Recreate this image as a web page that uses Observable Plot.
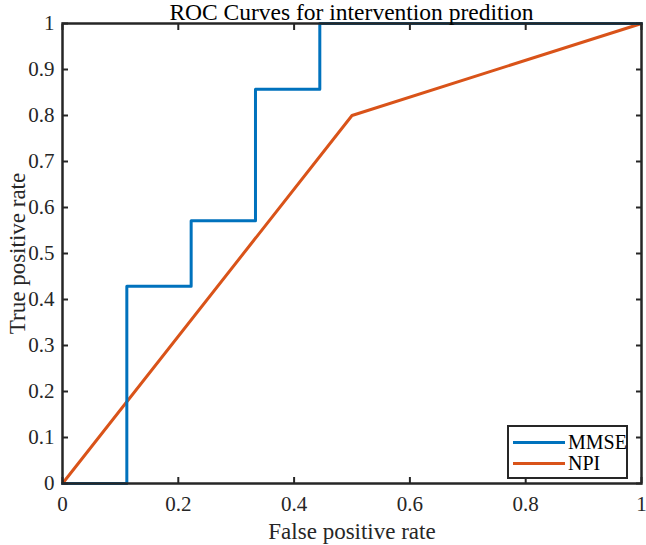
<!DOCTYPE html>
<html>
<head>
<meta charset="utf-8">
<script src="https://cdn.jsdelivr.net/npm/d3@7"></script>
<script src="https://cdn.jsdelivr.net/npm/@observablehq/plot@0.6"></script>
<style>
  body { margin: 0; background: white; font-family: "Liberation Serif", "Times New Roman", serif; }
  #wrap { position: relative; width: 646px; height: 545px; }
  #title { position: relative; z-index: 2; height: 20px; line-height: 25px; font-size: 23.5px;
           width: 646px; padding-left: 62px; padding-right: 5px; box-sizing: border-box;
           text-align: center; color: #000; white-space: nowrap; }
  #legend { position: absolute; z-index: 3; left: 507px; top: 425px; width: 121px; height: 54px;
            box-sizing: border-box; border: 2px solid #262626; background: white; font-size: 20px; color: #000; }
  .row { position: absolute; left: 4px; height: 20px; display: flex; align-items: center; }
  .sw { width: 52px; height: 3px; margin-right: 3px; }
  #chart svg, #chart svg text { font-family: "Liberation Serif", "Times New Roman", serif !important; }
</style>
</head>
<body>
<div id="wrap">
  <div id="title">ROC Curves for intervention predition</div>
  <div id="chart"></div>
  <div id="legend"></div>
</div>
<script>
// ROC curve vertices (false positive rate, true positive rate)
const mmseFpr = [0, 0.1111, 0.1111, 0.2222, 0.2222, 0.3333, 0.3333, 0.4444, 0.4444, 1];
const mmseTpr = [0, 0, 0.4286, 0.4286, 0.5714, 0.5714, 0.8571, 0.8571, 1, 1];
const npiFpr = [0, 0.5, 1];
const npiTpr = [0, 0.8, 1];

const seriesNames = ["MMSE", "NPI"];
const seriesColors = ["#0072BD", "#D95319"];

const xTicks = [0, 0.2, 0.4, 0.6, 0.8, 1];
const yTicks = [0, 0.1, 0.2, 0.3, 0.4, 0.5, 0.6, 0.7, 0.8, 0.9, 1];

const mmse = mmseFpr.map((x, i) => ({x, y: mmseTpr[i], s: "MMSE"}));
const npi = npiFpr.map((x, i) => ({x, y: npiTpr[i], s: "NPI"}));

const fmt = d => d === 0 || d === 1 ? String(d) : d3.format(".1f")(d);
const noLabel = () => "";
const axisColor = "#262626";
const tickLen = 6;

// inward-pointing tick marks on all four sides of the box
const inwardTicks = [
  Plot.axisX({ anchor: "bottom", ticks: xTicks, tickFormat: noLabel, tickSize: tickLen, dy: -tickLen, stroke: axisColor, strokeWidth: 2, label: null }),
  Plot.axisX({ anchor: "top", ticks: xTicks, tickFormat: noLabel, tickSize: tickLen, dy: tickLen, stroke: axisColor, strokeWidth: 2, label: null }),
  Plot.axisY({ anchor: "left", ticks: yTicks, tickFormat: noLabel, tickSize: tickLen, dx: tickLen, stroke: axisColor, strokeWidth: 2, label: null }),
  Plot.axisY({ anchor: "right", ticks: yTicks, tickFormat: noLabel, tickSize: tickLen, dx: -tickLen, stroke: axisColor, strokeWidth: 2, label: null })
];

const chart = Plot.plot({
  width: 646,
  height: 525,
  marginTop: 3,
  marginRight: 5,
  marginBottom: 62,
  marginLeft: 62,
  style: { fontSize: "21px", color: "#262626", background: "transparent", overflow: "visible" },
  x: { domain: [0, 1] },
  y: { domain: [0, 1] },
  color: { domain: seriesNames, range: seriesColors },
  marks: [
    Plot.line(npi, { x: "x", y: "y", stroke: "s", strokeWidth: 3 }),
    Plot.line(mmse, { x: "x", y: "y", stroke: "s", strokeWidth: 3 }),
    ...inwardTicks,
    Plot.axisX({ ticks: xTicks, tickFormat: fmt, tickSize: 0, tickPadding: 13,
                 fill: "#262626", fontSize: 21,
                 label: "False positive rate", labelAnchor: "center", labelArrow: "none", labelOffset: 55 }),
    Plot.axisY({ ticks: yTicks, tickFormat: fmt, tickSize: 0, tickPadding: 8,
                 fill: "#262626", fontSize: 21,
                 label: "True positive rate", labelAnchor: "center", labelArrow: "none", labelOffset: 54 }),
    Plot.frame({ stroke: axisColor, strokeWidth: 2.5 })
  ]
});
chart.setAttribute("font-family", "Liberation Serif, Times New Roman, serif");
chart.querySelectorAll("[aria-label='x-axis label'] text, [aria-label='y-axis label'] text").forEach(t => t.setAttribute("font-size", "23"));
document.getElementById("chart").appendChild(chart);

// legend rows
const legend = document.getElementById("legend");
seriesNames.forEach((name, i) => {
  const row = document.createElement("div");
  row.className = "row";
  row.style.top = (5 + i * 21) + "px";
  const sw = document.createElement("div");
  sw.className = "sw";
  sw.style.background = seriesColors[i];
  const label = document.createElement("span");
  label.textContent = name;
  row.appendChild(sw);
  row.appendChild(label);
  legend.appendChild(row);
});
</script>
</body>
</html>
